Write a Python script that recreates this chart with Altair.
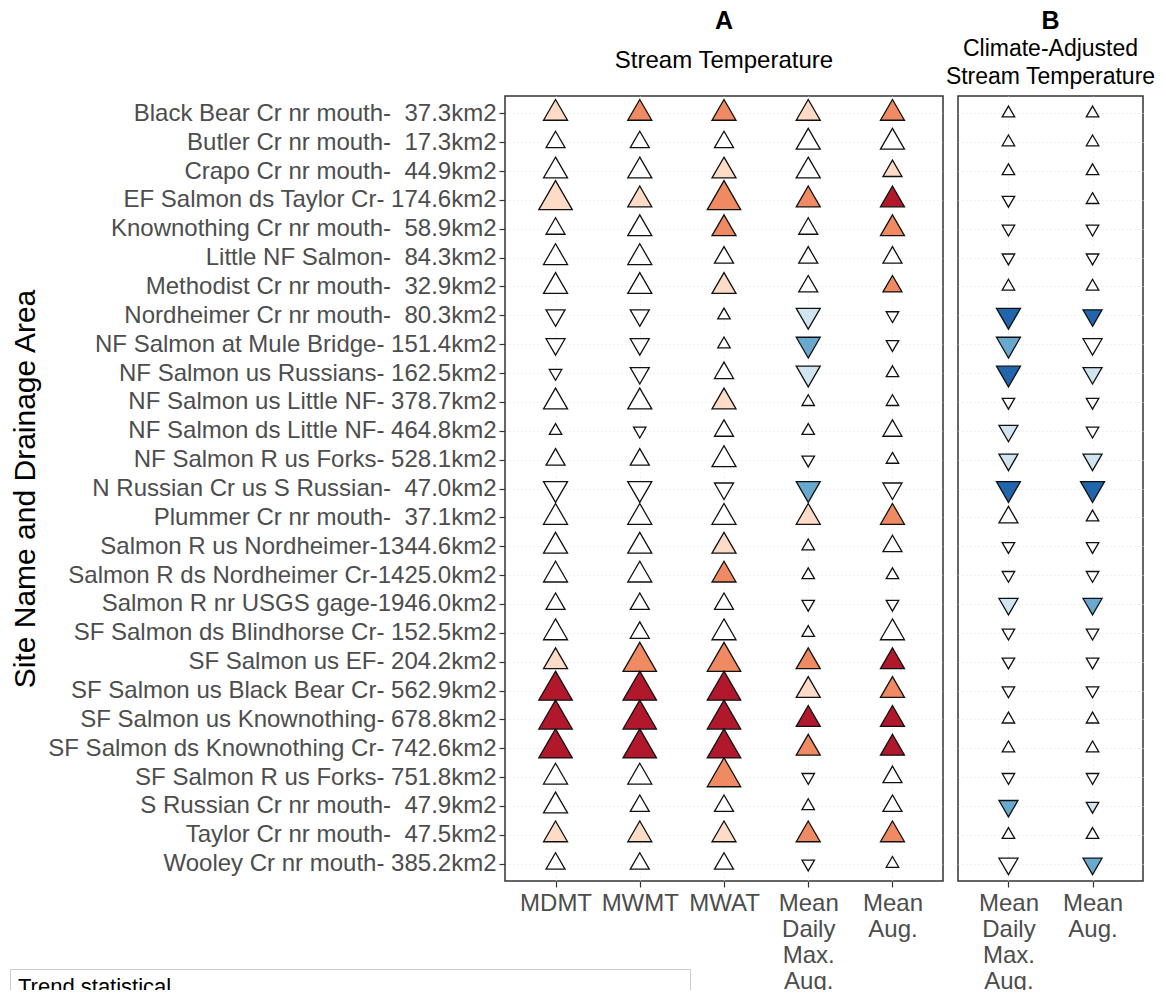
import altair as alt
import pandas as pd

FONT = "Liberation Sans"

site_names = [
    "Black Bear Cr nr mouth", "Butler Cr nr mouth", "Crapo Cr nr mouth",
    "EF Salmon ds Taylor Cr", "Knownothing Cr nr mouth", "Little NF Salmon",
    "Methodist Cr nr mouth", "Nordheimer Cr nr mouth", "NF Salmon at Mule Bridge",
    "NF Salmon us Russians", "NF Salmon us Little NF", "NF Salmon ds Little NF",
    "NF Salmon R us Forks", "N Russian Cr us S Russian", "Plummer Cr nr mouth",
    "Salmon R us Nordheimer", "Salmon R ds Nordheimer Cr", "Salmon R nr USGS gage",
    "SF Salmon ds Blindhorse Cr", "SF Salmon us EF", "SF Salmon us Black Bear Cr",
    "SF Salmon us Knownothing", "SF Salmon ds Knownothing Cr", "SF Salmon R us Forks",
    "S Russian Cr nr mouth", "Taylor Cr nr mouth", "Wooley Cr nr mouth",
]
drainage_km2 = [37.3, 17.3, 44.9, 174.6, 58.9, 84.3, 32.9, 80.3, 151.4, 162.5,
                378.7, 464.8, 528.1, 47.0, 37.1, 1344.6, 1425.0, 1946.0, 152.5,
                204.2, 562.9, 678.8, 742.6, 751.8, 47.9, 47.5, 385.2]

metrics_A = ["MDMT", "MWMT", "MWAT", "Mean Daily Max. Aug.", "Mean Aug."]
metrics_B = ["Mean Daily Max. Aug.", "Mean Aug."]

# signed trend-magnitude class (+ increasing, - decreasing)
mdmt_trend = [3, 2, 3, 4, 2, 3, 3, -2, -2, -1, 3, 1, 2, -3, 3, 3, 3, 2, 3, 3, 4, 4, 4, 3, 3, 3, 2]
mwmt_trend = [3, 2, 3, 3, 3, 3, 3, -2, -2, -2, 3, -1, 2, -3, 3, 3, 3, 2, 2, 4, 4, 4, 4, 3, 2, 3, 2]
mwat_trend = [3, 2, 3, 4, 3, 2, 3, 1, 1, 2, 3, 2, 3, -2, 3, 3, 3, 2, 3, 4, 4, 4, 4, 4, 2, 3, 2]
maxaug_trend = [3, 3, 3, 3, 2, 2, 2, -3, -3, -3, 1, 1, -1, -3, 3, 1, 1, -1, 1, 3, 3, 3, 3, -1, 1, 3, -1]
meanaug_trend = [3, 3, 2, 3, 3, 2, 2, -1, -1, 1, 1, 2, 1, -2, 3, 2, 1, -1, 3, 3, 3, 3, 3, 2, 2, 3, 1]
adj_maxaug_trend = [1, 1, 1, -1, -1, -1, 1, -3, -3, -3, -1, -2, -2, -3, 2, -1, -1, -2, -1, -1, -1, 1, 1, -1, -2, 1, -2]
adj_meanaug_trend = [1, 1, 1, 1, -1, -1, 1, -2, -2, -2, -1, -1, -2, -3, 1, -1, -1, -2, -1, -1, -1, 1, 1, -1, -1, 1, -2]

# significance level: 0 not significant, 1 weak, 2 moderate, 3 strong
mdmt_sig = [1, 0, 0, 1, 0, 0, 0, 0, 0, 0, 0, 0, 0, 0, 0, 0, 0, 0, 0, 1, 3, 3, 3, 0, 0, 1, 0]
mwmt_sig = [2, 0, 0, 1, 0, 0, 0, 0, 0, 0, 0, 0, 0, 0, 0, 0, 0, 0, 0, 2, 3, 3, 3, 0, 0, 1, 0]
mwat_sig = [2, 0, 1, 2, 2, 0, 1, 0, 0, 0, 1, 0, 0, 0, 0, 1, 2, 0, 0, 2, 3, 3, 3, 2, 0, 1, 0]
maxaug_sig = [1, 0, 0, 2, 0, 0, 0, 1, 2, 1, 0, 0, 0, 2, 1, 0, 0, 0, 0, 2, 1, 3, 2, 0, 0, 2, 0]
meanaug_sig = [2, 0, 1, 3, 2, 0, 2, 0, 0, 0, 0, 0, 0, 0, 2, 0, 0, 0, 0, 3, 2, 3, 3, 0, 0, 2, 0]
adj_maxaug_sig = [0, 0, 0, 0, 0, 0, 0, 3, 2, 3, 0, 1, 1, 3, 0, 0, 0, 1, 0, 0, 0, 0, 0, 0, 2, 0, 0]
adj_meanaug_sig = [0, 0, 0, 0, 0, 0, 0, 3, 0, 1, 0, 0, 1, 3, 0, 0, 0, 2, 0, 0, 0, 0, 0, 0, 1, 0, 2]

sig_labels = ["Decreasing, p < 0.05", "Decreasing, p < 0.10", "Decreasing, p < 0.20",
              "Not significant",
              "Increasing, p < 0.20", "Increasing, p < 0.10", "Increasing, p < 0.05"]
sig_colors = ["#2166AC", "#67A9CF", "#D1E5F0", "#FFFFFF", "#FDDBC7", "#EF8A62", "#B2182B"]

mag_classes = [1, 2, 3, 4]
mag_areas = [156, 361, 576, 1120]

UP = "M0,-1.155L1,0.577L-1,0.577Z"
DOWN = "M0,1.155L1,-0.577L-1,-0.577Z"

NBSP = "\u00a0"
site_labels = [f"{n}-" + f"{a:6.1f}".replace(" ", NBSP) + "km2"
               for n, a in zip(site_names, drainage_km2)]


def build(metric, trend, sig):
    rows = []
    for lab, t, s in zip(site_labels, trend, sig):
        d = "up" if t > 0 else "down"
        if s == 0:
            cat = sig_labels[3]
        elif t > 0:
            cat = sig_labels[3 + s]
        else:
            cat = sig_labels[3 - s]
        rows.append({"site": lab, "metric": metric, "dir": d, "mag": abs(t), "signif": cat})
    return rows


dfA = pd.DataFrame(
    build(metrics_A[0], mdmt_trend, mdmt_sig)
    + build(metrics_A[1], mwmt_trend, mwmt_sig)
    + build(metrics_A[2], mwat_trend, mwat_sig)
    + build(metrics_A[3], maxaug_trend, maxaug_sig)
    + build(metrics_A[4], meanaug_trend, meanaug_sig)
)
dfB = pd.DataFrame(
    build(metrics_B[0], adj_maxaug_trend, adj_maxaug_sig)
    + build(metrics_B[1], adj_meanaug_trend, adj_meanaug_sig)
)

shape_enc = alt.Shape("dir:N", scale=alt.Scale(domain=["up", "down"], range=[UP, DOWN]), legend=None)
size_enc = alt.Size("mag:O", scale=alt.Scale(type="ordinal", domain=mag_classes, range=mag_areas),
                    legend=None)

x_axis = alt.Axis(title=None, labelAngle=0, labelExpr="split(datum.label, ' ')",
                  labelBaseline="top", labelLineHeight=26, labelPadding=4,
                  labelAlign="center", labelOverlap=False)

panelA = alt.Chart(dfA).mark_point(
    filled=True, opacity=1, fillOpacity=1, stroke="#111111", strokeWidth=1.3
).encode(
    x=alt.X("metric:N", sort=metrics_A, scale=alt.Scale(type="point", padding=0.6), axis=x_axis),
    y=alt.Y("site:N", sort=site_labels, scale=alt.Scale(type="point", padding=0.6),
            axis=alt.Axis(title="Site Name and Drainage Area", titleFontSize=30,
                          titleFontWeight="normal", titleColor="black",
                          titleX=-465, titleY=392.5, titleAngle=270, titleAlign="center",
                          titleBaseline="bottom",
                          labelPadding=3, labelLimit=800)),
    shape=shape_enc,
    size=size_enc,
    fill=alt.Fill("signif:N", scale=alt.Scale(domain=sig_labels, range=sig_colors),
                  legend=alt.Legend(orient="none", legendX=-495, legendY=873,
                                    title=["Trend statistical", "significance"],
                                    titleOrient="top", direction="horizontal", columns=3,
                                    columnPadding=45,
                                    strokeColor="#cccccc", padding=8,
                                    titleFontSize=22, titleFontWeight="normal",
                                    titleColor="black", titleLineHeight=26,
                                    labelFontSize=18, labelLimit=220,
                                    symbolSize=300, symbolStrokeColor="#111111",
                                    symbolStrokeWidth=1.3)),
).properties(
    width=438, height=785,
    title=alt.TitleParams(text="A", subtitle=["Stream Temperature"], fontSize=25,
                          fontWeight="bold", color="black", subtitleFontSize=24,
                          subtitleColor="black", subtitleLineHeight=28,
                          anchor="middle", frame="group", offset=23, subtitlePadding=15),
)

panelB = alt.Chart(dfB).mark_point(
    filled=True, opacity=1, fillOpacity=1, stroke="#111111", strokeWidth=1.3
).encode(
    x=alt.X("metric:N", sort=metrics_B, scale=alt.Scale(type="point", padding=0.6), axis=x_axis),
    y=alt.Y("site:N", sort=site_labels, scale=alt.Scale(type="point", padding=0.6),
            axis=alt.Axis(title=None, labels=False, ticks=False)),
    shape=shape_enc,
    size=size_enc,
    fill=alt.Fill("signif:N", scale=alt.Scale(domain=sig_labels, range=sig_colors), legend=None),
).properties(
    width=185, height=785,
    title=alt.TitleParams(text="B", subtitle=["Climate-Adjusted", "Stream Temperature"],
                          fontSize=25, fontWeight="bold", color="black", subtitleFontSize=23,
                          subtitleColor="black", subtitleLineHeight=28,
                          anchor="middle", frame="group", offset=7, subtitlePadding=4),
)

chart = alt.hconcat(panelA, panelB, spacing=0).resolve_scale(
    x="independent", y="shared", fill="independent", shape="shared", size="shared"
).configure(
    font=FONT, padding={"left": 0, "top": 0, "right": 0, "bottom": -121}
).configure_view(
    stroke="#333333", strokeWidth=1.5
).configure_axis(
    grid=True, gridColor="#e3e3e3", gridDash=[1, 3], gridWidth=1,
    domain=False, tickColor="#333333", tickSize=6, tickWidth=1.2,
    labelFont=FONT, labelFontSize=24, labelColor="#4d4d4d", titleFont=FONT,
).configure_title(font=FONT, subtitleFont=FONT)

chart.save("out.html", embed_options={"renderer": "svg", "actions": False})
